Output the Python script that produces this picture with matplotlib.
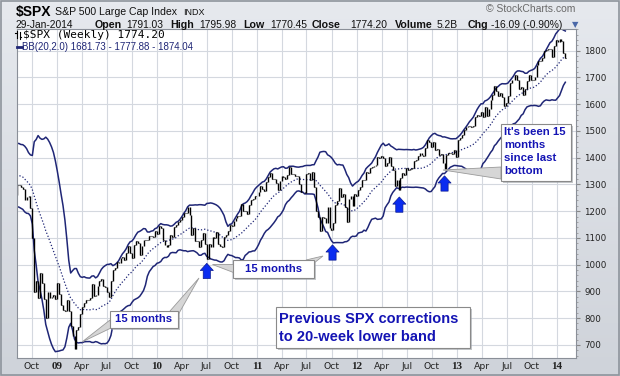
import numpy as np
import pandas as pd
import matplotlib
matplotlib.use('Agg')
import matplotlib.pyplot as plt
from matplotlib.patches import Rectangle, Polygon
from matplotlib.colors import LinearSegmentedColormap

# weekly closes of $SPX (Fridays), read off the chart / approximated
closes_2008 = [1396, 1331, 1349, 1353, 1331,
               1293, 1288, 1329, 1316,
               1370, 1332, 1390, 1398,
               1414, 1388, 1425, 1375, 1400,
               1361, 1360, 1318, 1278,
               1262, 1239, 1260, 1257,
               1260, 1296, 1298, 1292, 1283,
               1242, 1252, 1255, 1213,
               1099, 899, 940, 877, 968,
               930, 873, 800, 896,
               876, 879, 887, 873]
closes_2009 = [931, 890, 850, 832, 826,
               869, 827, 770, 735,
               683, 756, 768, 816,
               842, 856, 869, 866,
               877, 929, 882, 887, 919,
               940, 946, 921, 918,
               896, 879, 940, 979, 987,
               1010, 1005, 1026, 1029,
               1016, 1042, 1068, 1044,
               1025, 1072, 1087, 1080, 1036,
               1069, 1093, 1091, 1091,
               1106, 1106, 1102, 1127]
closes_2010 = [1115, 1145, 1136, 1092, 1074,
               1066, 1075, 1109, 1105,
               1139, 1150, 1160, 1167,
               1178, 1194, 1192, 1217, 1187,
               1111, 1136, 1088, 1089,
               1065, 1092, 1117, 1076,
               1022, 1078, 1065, 1102, 1101,
               1122, 1079, 1071, 1065,
               1104, 1110, 1125, 1149,
               1146, 1165, 1176, 1183, 1183,
               1225, 1199, 1199, 1189,
               1224, 1240, 1244, 1257, 1258]
closes_2011 = [1271, 1293, 1283, 1276,
               1310, 1329, 1343, 1320,
               1321, 1304, 1279, 1313,
               1332, 1329, 1320, 1337, 1364,
               1340, 1338, 1333, 1331,
               1300, 1271, 1271, 1268,
               1340, 1344, 1316, 1345, 1292,
               1199, 1179, 1124, 1177,
               1174, 1154, 1216, 1136, 1131,
               1155, 1224, 1238, 1285,
               1253, 1263, 1216, 1159,
               1244, 1255, 1219, 1265, 1258]
closes_2012 = [1278, 1289, 1315, 1316,
               1345, 1343, 1361, 1366,
               1370, 1371, 1404, 1397, 1408,
               1398, 1370, 1379, 1403,
               1369, 1353, 1295, 1318,
               1278, 1325, 1343, 1335, 1362,
               1354, 1357, 1362, 1386,
               1391, 1405, 1418, 1411, 1407,
               1437, 1466, 1460, 1441,
               1460, 1429, 1433, 1411,
               1414, 1380, 1359, 1409, 1416,
               1418, 1413, 1430, 1402]
closes_2013 = [1466, 1472, 1486, 1503,
               1513, 1518, 1520, 1516,
               1518, 1551, 1561, 1556, 1569,
               1553, 1588, 1555, 1582,
               1614, 1634, 1667, 1650, 1631,
               1643, 1626, 1593, 1606,
               1632, 1680, 1692, 1692,
               1710, 1691, 1655, 1664, 1633,
               1655, 1688, 1710, 1692,
               1690, 1703, 1745, 1760,
               1762, 1771, 1798, 1804, 1806,
               1805, 1775, 1818, 1841]
closes_2014 = [1831, 1842, 1838, 1790, 1774.20]

closes = closes_2008 + closes_2009 + closes_2010 + closes_2011 + closes_2012 + closes_2013 + closes_2014
weeks = pd.date_range('2008-02-01', periods=len(closes), freq='W-FRI')

# the blue arrows under the lows
arrow_dates = ['2010-07-02', '2011-10-04', '2012-06-04', '2012-11-16']
arrow_values = [1005, 1074, 1253, 1332]

y_ticks = [700, 800, 900, 1000, 1100, 1200, 1300, 1400, 1500, 1600, 1700, 1800]

navy = '#1f2676'
blue_txt = '#1414b4'

s = pd.Series(closes, index=weeks)
mid = s.rolling(20).mean()
sd = s.rolling(20).std(ddof=0)
upper = mid + 2 * sd
lower = mid - 2 * sd
opens = s.shift(1).fillna(s)
hi = np.maximum(opens, s)
lo = np.minimum(opens, s)

fig = plt.figure(figsize=(6.2, 3.76), dpi=100)

# background gradient
bg = fig.add_axes([0, 0, 1, 1], zorder=-2)
cm = LinearSegmentedColormap.from_list('bg', ['#e6e9ee', '#cfd3da'])
bg.imshow(np.linspace(0, 1, 100).reshape(-1, 1), aspect='auto', cmap=cm, extent=[0, 1, 0, 1])
bg.set_xlim(0, 1)
bg.set_ylim(0, 1)
bg.axis('off')
bg.add_patch(Rectangle((0.001, 0.002), 0.997, 0.995, fill=False, ec='#8e949c', lw=1.2))

ax = fig.add_axes([17 / 620, 18 / 376, 559 / 620, 329 / 376])
ax.set_facecolor('white')
ax.set_axisbelow(True)

ax.plot(weeks, upper, color=navy, lw=1.1)
ax.plot(weeks, lower, color=navy, lw=1.1)
ax.plot(weeks, mid, color=navy, lw=0.9, ls=(0, (1, 1.6)))
ax.vlines(weeks, lo, hi, color='black', lw=1.0)
ax.hlines(s, weeks, weeks + pd.Timedelta(days=3), color='black', lw=0.8)

for d, v in zip(arrow_dates, arrow_values):
    ax.annotate('', xy=(pd.Timestamp(d), v), xytext=(0, -11), textcoords='offset points',
                arrowprops=dict(arrowstyle='simple,head_length=0.55,head_width=1.0,tail_width=0.55',
                                mutation_scale=9.4, fc='#0a2cf0', ec='#0b1a90', lw=0.5,
                                shrinkA=0, shrinkB=0))

ax.set_xlim(pd.Timestamp('2008-08-08'), pd.Timestamp('2014-03-11'))
ax.set_ylim(651, 1881)

qticks = pd.date_range('2008-10-01', '2014-01-01', freq='QS')
ax.set_xticks(qticks)
lbls = [('%02d' % (d.year % 100)) if d.month == 1 else d.strftime('%b') for d in qticks]
ax.set_xticklabels(lbls)
for t, d in zip(ax.get_xticklabels(), qticks):
    if d.month == 1:
        t.set_fontfamily('Liberation Serif')
        t.set_fontweight('bold')
        t.set_fontsize(8)
    else:
        t.set_fontfamily('DejaVu Sans')
        t.set_fontsize(6.7)
ax.tick_params(axis='x', length=0, pad=3, labelcolor='#222222')

ax.yaxis.tick_right()
ax.set_yticks(y_ticks)
ax.set_yticklabels([str(v) for v in y_ticks])
ax.set_yticks(np.arange(660, 1881, 20), minor=True)
ax.tick_params(axis='y', which='major', length=3, pad=3, color='#888888',
               labelsize=6.3, labelcolor='#222222')
ax.tick_params(axis='y', which='minor', length=1.5, color='#999999')
ax.tick_params(axis='x', which='minor', length=0)
ax.grid(True, color='#d4d8df', lw=0.8)
for sp in ax.spines.values():
    sp.set_color('#8a8f98')
    sp.set_linewidth(0.8)

# overlay in pixel coordinates for titles, legend and call-outs
ov = fig.add_axes([0, 0, 1, 1], zorder=5)
ov.set_xlim(0, 620)
ov.set_ylim(376, 0)
ov.axis('off')

sans = 'Liberation Sans'
ov.text(16, 12, '$SPX', fontsize=10, fontweight='bold', family=sans, va='center')
ov.text(55, 12, 'S&P 500 Large Cap Index', fontsize=7.6, family=sans, va='center', color='#111111')
ov.text(183, 12.5, 'INDX', fontsize=6.5, family=sans, va='center', color='#111111')
ov.text(575, 9, '\u00a9 StockCharts.com', fontsize=7.5, family=sans, va='center', ha='right', color='#6a6a6a')

header = [(16, '29-Jan-2014', False), (95, 'Open', True), (126, '1791.03', False),
          (170, 'High', True), (199, '1795.98', False), (243, 'Low', True), (270, '1770.45', False),
          (312, 'Close', True), (350, '1774.20', False), (395, 'Volume', True), (437, '5.2B', False),
          (468, 'Chg', True), (491, '-16.09 (-0.90%)', False)]
for x, txt, bold in header:
    ov.text(x, 25, txt, fontsize=7.7 if bold else 7.4, fontweight='bold' if bold else 'normal',
            family=sans, va='center', color='#111111')
ov.text(572, 25, '\u25bc', fontsize=6, family='DejaVu Sans', va='center', color='#4a68a8')

# legend
ov.plot([16.5, 16.5], [31, 38], color='black', lw=0.8)
ov.plot([15, 16.5], [33, 33], color='black', lw=0.8)
ov.plot([19.5, 19.5], [32, 39], color='black', lw=0.8)
ov.plot([19.5, 21], [37, 37], color='black', lw=0.8)
ov.text(23, 35, '$SPX (Weekly) 1774.20', fontsize=8, family='DejaVu Sans Mono', va='center')
ov.plot([16.5, 22], [46.5, 46.5], color=navy, lw=2)
ov.text(22.5, 46.5, 'BB(20,2.0) 1681.73 - 1777.88 - 1874.04', fontsize=7, family=sans,
        va='center', color=navy)


def callout(x0, y0, x1, y1):
    ov.add_patch(Rectangle((x0 + 2, y0 + 2), x1 - x0, y1 - y0, fc='#9ea2a8', ec='none', alpha=0.6))
    ov.add_patch(Rectangle((x0, y0), x1 - x0, y1 - y0, fc='white', ec='#8a8a8a', lw=0.8))


def wedge(pts):
    ov.add_patch(Polygon(pts, closed=True, fc='#d6d6d6', ec='#9a9a9a', lw=0.6))


wedge([(82, 342), (110, 320), (111, 328)])
wedge([(199, 278), (170, 311), (178, 315)])
wedge([(212, 264), (233, 264), (233, 272)])
wedge([(323, 256), (306, 260), (314, 263)])
wedge([(443, 170), (501, 167), (501, 179)])

callout(110, 311, 178, 328)
ov.text(144, 319.5, '15 months', fontsize=8.2, fontweight='bold', family=sans,
        color=blue_txt, ha='center', va='center')
callout(233, 260, 314, 278)
ov.text(273.5, 269, '15 months', fontsize=8.2, fontweight='bold', family=sans,
        color=blue_txt, ha='center', va='center')
callout(501, 124, 571, 181)
for i, line in enumerate(["It's been 15", 'months', 'since last', 'bottom']):
    ov.text(504, 132 + 13 * i, line, fontsize=8.2, fontweight='bold', family=sans,
            color=blue_txt, va='center')
callout(276, 307, 470, 348)
ov.text(279, 319, 'Previous SPX corrections', fontsize=10.5, fontweight='bold', family=sans,
        color=blue_txt, va='center')
ov.text(279, 337, 'to 20-week lower band', fontsize=10.5, fontweight='bold', family=sans,
        color=blue_txt, va='center')

fig.savefig('out.png', dpi=100)
